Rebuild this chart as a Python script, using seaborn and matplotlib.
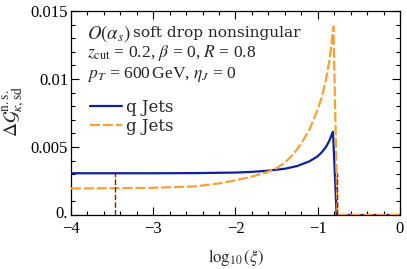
import numpy as np
import pandas as pd
import matplotlib
matplotlib.use("Agg")
import matplotlib.pyplot as plt
import matplotlib.transforms as mtransforms
import seaborn as sns
from matplotlib.ticker import MultipleLocator, FixedLocator, FixedFormatter

# ---- data ----
x_q = [-4.0, -3.0, -2.5, -2.0, -1.8, -1.6, -1.4, -1.25, -1.1, -1.0, -0.95, -0.9,
       -0.86, -0.83, -0.815, -0.77, 0.0]
y_q = [0.00307, 0.00307, 0.00308, 0.00312, 0.00317, 0.00326, 0.00340, 0.00360,
       0.00395, 0.00432, 0.00462, 0.00500, 0.00545, 0.00590, 0.00612, 0.0, 0.0]

x_g = [-4.0, -3.5, -3.0, -2.5, -2.2, -2.0, -1.8, -1.6, -1.5, -1.4, -1.3, -1.2,
       -1.1, -1.0, -0.95, -0.9, -0.86, -0.83, -0.81, -0.76, 0.0]
y_g = [0.00195, 0.00197, 0.00200, 0.00210, 0.00232, 0.00255, 0.00282, 0.00318,
       0.00345, 0.00385, 0.00445, 0.00525, 0.00630, 0.00775, 0.00870, 0.00995,
       0.01130, 0.01270, 0.01385, 0.0, 0.0]

vline_x = [-3.46, -0.76]
vline_top = [0.0031, 0.0031]

series_labels = ["q Jets", "g Jets"]
x_ticks = [-4, -3, -2, -1, 0]
x_ticklabels = ["\u22124", "\u22123", "\u22122", "\u22121", "0"]
y_ticks = [0.0, 0.005, 0.01, 0.015]
y_ticklabels = ["0.", "0.005", "0.01", "0.015"]

# ---- style ----
sns.set_style("ticks")
plt.rcParams["font.family"] = ["DejaVu Serif"]
plt.rcParams["mathtext.fontset"] = "stix"

blue = "#0f20a0"
orange = "#ffa035"
darkred = "#8b1a00"

fig = plt.figure(figsize=(4.07, 2.69), dpi=100)
ax = fig.add_axes([71 / 407, 1 - 215 / 269, 329 / 407, 204 / 269])

df_q = pd.DataFrame({"x": x_q, "y": y_q})
df_g = pd.DataFrame({"x": x_g, "y": y_g})

sns.lineplot(data=df_q, x="x", y="y", ax=ax, color=blue, lw=1.6,
             sort=False, estimator=None, label=series_labels[0], zorder=3)
sns.lineplot(data=df_g, x="x", y="y", ax=ax, color=orange, lw=1.6,
             sort=False, estimator=None, label=series_labels[1], zorder=4,
             dashes=False)
ax.lines[-1].set_dashes([4.5, 1.3])

ax.vlines(vline_x, 0, vline_top, colors=darkred, linestyles=(0, (4, 1.5)),
          lw=1.0, zorder=5)

ax.set_xlim(-4, 0)
ax.set_ylim(0, 0.015)

ax.xaxis.set_major_locator(FixedLocator(x_ticks))
ax.xaxis.set_major_formatter(FixedFormatter(x_ticklabels))
ax.xaxis.set_minor_locator(MultipleLocator(0.2))
ax.yaxis.set_major_locator(FixedLocator(y_ticks))
ax.yaxis.set_major_formatter(FixedFormatter(y_ticklabels))
ax.yaxis.set_minor_locator(MultipleLocator(0.001))

ax.tick_params(which="both", direction="in", top=True, right=True,
               labelsize=11, colors="black", width=0.8)
ax.tick_params(which="major", length=6)
ax.tick_params(axis="x", which="major", pad=4)
ax.tick_params(axis="y", which="major", pad=2)
ax.tick_params(which="minor", length=3)
for lab in ax.get_xticklabels() + ax.get_yticklabels():
    lab.set_fontfamily(["Liberation Serif"])
    lab.set_fontsize(12)
# nudge the "0." label slightly up so it does not touch "-4"
ylabs = ax.get_yticklabels()
ylabs[0].set_transform(ylabs[0].get_transform() +
                       mtransforms.ScaledTranslation(0, 2.5 / 100, fig.dpi_scale_trans))
for s in ax.spines.values():
    s.set_linewidth(0.9)
    s.set_color("black")

ax.set_xlabel("")
ax.set_ylabel("")
fig.text(236 / 407, 1 - 257 / 269, r"$\log_{10}(\xi)$", ha="center", va="center",
         fontsize=12, family=["Liberation Serif"])
fig.text(15 / 407, 1 - 111 / 269, r"$\Delta\mathcal{G}^{\rm n.s.}_{\kappa,\rm sd}$",
         rotation=90, ha="center", va="center", fontsize=14)

t1 = ax.text(0.049, 0.892, r"$O(\alpha_s)$",
             transform=ax.transAxes, ha="left", va="center", fontsize=13.5)
ax.annotate("soft drop nonsingular", xy=(1, 0.5), xycoords=t1,
            xytext=(2, 0), textcoords="offset points",
            ha="left", va="center", fontsize=11.1)
ax.text(0.049, 0.793, r"$z_{\rm cut}$ = 0.2, $\beta$ = 0, $R$ = 0.8",
        transform=ax.transAxes, ha="left", va="center", fontsize=12.6,
        family=["Liberation Serif"])
ax.text(0.049, 0.690, r"$p_T$ = 600$\,$GeV, $\eta_J$ = 0",
        transform=ax.transAxes, ha="left", va="center", fontsize=12.6,
        family=["Liberation Serif"])

leg = ax.legend(loc="upper left", bbox_to_anchor=(0.036, 0.600), frameon=False,
                fontsize=12, handlelength=1.95, handletextpad=0.25,
                labelspacing=0.1, borderaxespad=0)

fig.savefig("out.png", dpi=100)
